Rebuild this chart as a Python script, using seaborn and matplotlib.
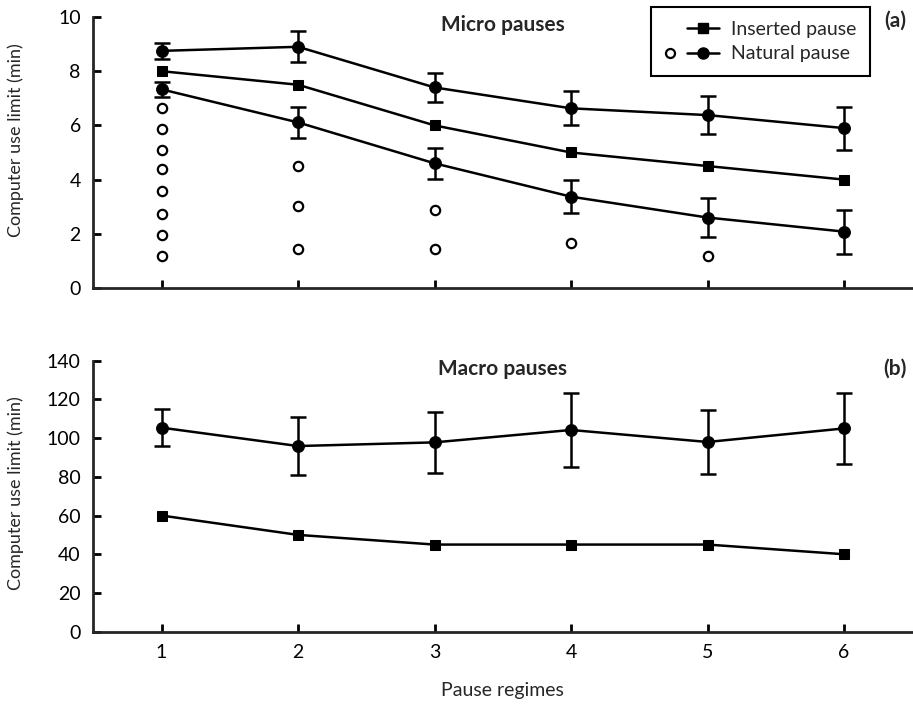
import matplotlib
matplotlib.use("Agg")
import matplotlib.pyplot as plt
from matplotlib.lines import Line2D
from matplotlib.legend_handler import HandlerBase
import seaborn as sns
import pandas as pd

# ---- data ----
regimes = [1, 2, 3, 4, 5, 6]

micro_inserted = [8.0, 7.5, 6.0, 5.0, 4.5, 4.0]
micro_natural_high = [8.75, 8.9, 7.4, 6.63, 6.38, 5.9]
micro_natural_high_err = [0.3, 0.57, 0.53, 0.63, 0.7, 0.79]
micro_natural_low = [7.33, 6.11, 4.6, 3.37, 2.6, 2.08]
micro_natural_low_err = [0.28, 0.58, 0.56, 0.62, 0.72, 0.81]

# individual natural micro pauses
indiv_x = [1, 1, 1, 1, 1, 1, 1, 1, 2, 2, 2, 3, 3, 4, 5]
indiv_y = [6.63, 5.88, 5.1, 4.38, 3.58, 2.74, 1.94, 1.17,
           4.51, 3.04, 1.43, 2.87, 1.43, 1.66, 1.18]

macro_inserted = [60, 50, 45, 45, 45, 40]
macro_natural = [105.4, 95.9, 97.8, 104.2, 98.0, 105.0]
macro_natural_err = [9.5, 15.2, 15.6, 19.0, 16.3, 18.5]

micro_ticks = [0, 2, 4, 6, 8, 10]
macro_ticks = [0, 20, 40, 60, 80, 100, 120, 140]

# ---- style ----
sns.set_style("ticks")
FONT = ["Lato", "DejaVu Sans"]
plt.rcParams["font.family"] = FONT
plt.rcParams["axes.linewidth"] = 2.0

LW = 1.8
FS = 14
TITLE_FS = 15

fig = plt.figure(figsize=(9.13, 7.05), dpi=100)
ax_top = fig.add_axes([0.1022, 0.5915, 0.897, 0.3844])
ax_bot = fig.add_axes([0.1022, 0.1040, 0.897, 0.3844])


def styled(ax, ticks, ylim, label_y):
    ax.set_xlim(0.5, 6.5)
    ax.set_ylim(*ylim)
    ax.set_yticks(ticks)
    ax.set_xticks(regimes)
    sns.despine(ax=ax)
    ax.tick_params(direction="in", length=6, width=2, labelsize=FS, pad=9,
                   colors="black")
    ax.set_ylabel("Computer use limit (min)", fontsize=13)
    ax.yaxis.set_label_coords(-0.085, label_y)
    ax.set_facecolor("white")


def trace(ax, y, marker, ms):
    df = pd.DataFrame({"regime": regimes, "value": y})
    sns.lineplot(data=df, x="regime", y="value", ax=ax, color="black", lw=LW,
                 marker=marker, markersize=ms, markeredgecolor="black",
                 markerfacecolor="black", errorbar=None, zorder=3)


def bars(ax, y, err):
    ax.errorbar(regimes, y, yerr=err, fmt="none", ecolor="black",
                elinewidth=LW, capsize=5.5, capthick=LW, zorder=2)


# ---- (a) micro pauses ----
styled(ax_top, micro_ticks, (0, 10), 0.545)
bars(ax_top, micro_natural_high, micro_natural_high_err)
bars(ax_top, micro_natural_low, micro_natural_low_err)
trace(ax_top, micro_natural_high, "o", 8.5)
trace(ax_top, micro_inserted, "s", 6.5)
trace(ax_top, micro_natural_low, "o", 8.5)
sns.scatterplot(x=indiv_x, y=indiv_y, ax=ax_top, marker="o", s=45,
                facecolor="white", edgecolor="black", linewidth=1.6, zorder=3)
ax_top.tick_params(axis="x", labelbottom=False)
ax_top.set_xlabel("")
ax_top.text(0.5, 0.97, "Micro pauses", transform=ax_top.transAxes,
            ha="center", va="center", fontsize=TITLE_FS, fontweight="bold")


# legend: optional hollow marker followed by a line-marker-line sample
class PairHandler(HandlerBase):
    def create_artists(self, legend, orig_handle, xdescent, ydescent,
                       width, height, fontsize, trans):
        hollow, marker = orig_handle
        y = height / 2 - ydescent
        x0 = -xdescent
        start = x0 + 0.40 * width
        end = x0 + width
        arts = [Line2D([start, end], [y, y], color="black", lw=LW),
                Line2D([(start + end) / 2], [y], marker=marker,
                       ms=8 if marker == "o" else 6.5, color="black", lw=0)]
        if hollow:
            arts.append(Line2D([x0 + 0.1 * width], [y], marker="o", ms=6.5,
                               markerfacecolor="white", markeredgecolor="black",
                               markeredgewidth=1.6, lw=0))
        for a in arts:
            a.set_transform(trans)
        return arts


leg = ax_top.legend(handles=[(False, "s"), (True, "o")],
                    labels=["Inserted pause", "Natural pause"],
                    handler_map={tuple: PairHandler()},
                    loc="upper right", bbox_to_anchor=(870 / 913, 1 - 7 / 705),
                    bbox_transform=fig.transFigure, fontsize=FS,
                    frameon=True, fancybox=False, edgecolor="black",
                    framealpha=1, handlelength=2.8, handletextpad=0.6,
                    borderpad=0.7, labelspacing=0.4, borderaxespad=0)
leg.get_frame().set_linewidth(1.5)

# ---- (b) macro pauses ----
styled(ax_bot, macro_ticks, (0, 140), 0.51)
bars(ax_bot, macro_natural, macro_natural_err)
trace(ax_bot, macro_natural, "o", 8.5)
trace(ax_bot, macro_inserted, "s", 6.5)
ax_bot.set_xlabel("Pause regimes", fontsize=FS, labelpad=15)
ax_bot.text(0.5, 0.97, "Macro pauses", transform=ax_bot.transAxes,
            ha="center", va="center", fontsize=TITLE_FS, fontweight="bold")

fig.text(895 / 913, 1 - 21 / 705, "(a)", ha="center", va="center",
         fontsize=TITLE_FS, fontweight="bold")
fig.text(895 / 913, 1 - 369 / 705, "(b)", ha="center", va="center",
         fontsize=TITLE_FS, fontweight="bold")

fig.savefig("out.png", dpi=100, facecolor="white")
